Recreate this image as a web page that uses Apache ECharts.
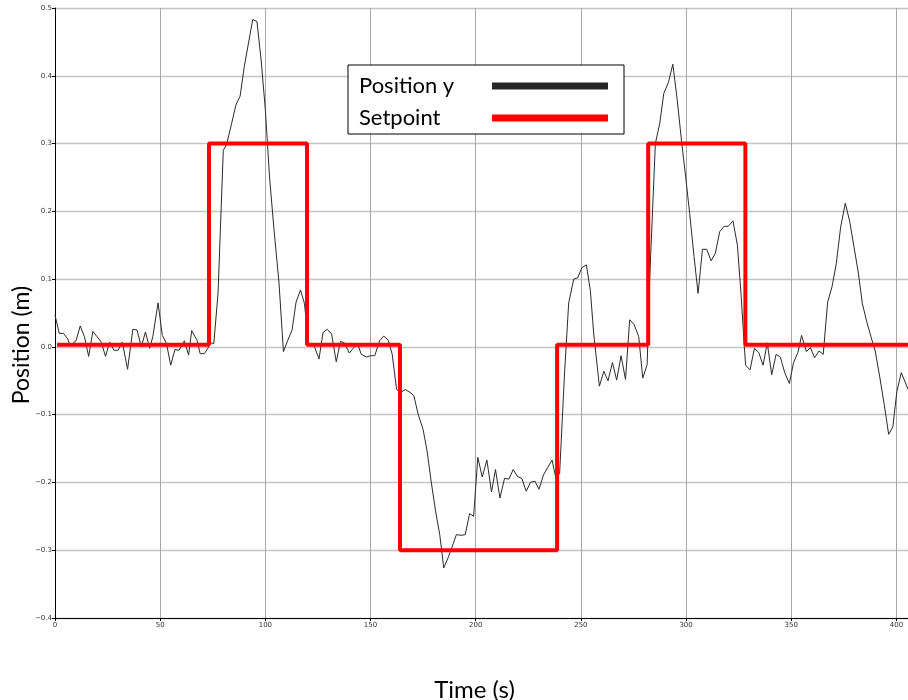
<!DOCTYPE html>
<html>
<head>
<meta charset="utf-8">
<script src="https://cdn.jsdelivr.net/npm/echarts@6/dist/echarts.min.js"></script>
<style>
html,body{margin:0;padding:0;background:#fff;}
#chart{width:908px;height:700px;}
</style>
</head>
<body>
<div id="chart"></div>
<script>
// ---- data ----
const posTime = [0,2,4,6,7,8,10,12,14,16,18,20,22,24,26,28,30,32,34.5,37,39,41,43,45,46.5,49,51,53,55,57,59,61.5,63.5,65,67.5,69,71,72.5,74,75.5,77.5,80,81.5,84,86,88,90,94,96,98,100,102,104,106.5,108.6,110.7,112.7,114.6,116.7,118.6,120,120.7,122.8,125.5,127.4,129.4,131.5,133.7,135.7,137.6,139.9,141.8,143.8,145.6,148.1,150,152,154.3,156.3,158.4,160.3,162.4,164.3,166.6,168.7,170.6,172.6,175,176.9,178.8,180.9,182.9,184.8,186.9,188.9,190.8,193,195,197.1,199,201,203.1,205.3,207.5,209.4,211.5,213.7,215.8,217.8,219.8,221.9,224,226,228.1,230.1,232.2,234.2,236.3,238.2,239.9,242.2,244.2,246.6,248.5,250.5,252.6,254.5,256.1,258.8,260.9,262.9,265,267,269.1,271.2,273.2,275.3,277.5,279.4,281.5,282.7,285.4,287.5,289.4,291.6,293.7,295.7,297.8,299.8,301.7,303.8,305.7,307.8,309.8,311.9,313.9,316,318.1,320.1,322.3,324.4,326.1,327.7,328.3,330.4,332.5,334.5,336.6,338.6,340.7,342.8,344.8,346.9,349.1,351.1,353.2,354.9,357.2,359.1,361.1,363.2,365.2,367.3,369.4,371.4,373.5,375.7,377.8,379.8,381.9,383.8,385.9,387.9,389.9,392,394.2,396.3,398.3,400.2,402.3,405.6];
const posValue = [0.047,0.02,0.02,0.012,0.004,0.004,0.009,0.031,0.015,-0.014,0.023,0.015,0.007,-0.014,0.007,-0.005,-0.005,0.007,-0.033,0.026,0.025,0.0,0.022,-0.002,0.015,0.065,0.017,0.005,-0.027,-0.004,-0.005,0.009,-0.012,0.024,0.01,-0.01,-0.01,-0.003,0.006,0.005,0.079,0.29,0.298,0.33,0.357,0.37,0.414,0.483,0.48,0.423,0.35,0.25,0.177,0.094,-0.007,0.01,0.025,0.066,0.084,0.064,0.02,0.003,0.005,-0.018,0.021,0.026,0.019,-0.022,0.008,0.006,-0.009,-0.002,0.005,-0.011,-0.015,-0.013,-0.013,0.009,0.016,0.01,-0.011,-0.063,-0.067,-0.063,-0.067,-0.072,-0.099,-0.122,-0.154,-0.198,-0.242,-0.277,-0.326,-0.311,-0.294,-0.277,-0.278,-0.277,-0.246,-0.25,-0.163,-0.192,-0.167,-0.214,-0.181,-0.223,-0.194,-0.195,-0.181,-0.191,-0.194,-0.213,-0.2,-0.198,-0.21,-0.189,-0.178,-0.167,-0.195,-0.186,-0.04,0.065,0.1,0.102,0.117,0.121,0.083,0.019,-0.058,-0.036,-0.05,-0.023,-0.049,-0.013,-0.048,0.04,0.033,0.015,-0.046,-0.026,0.1,0.3,0.33,0.374,0.39,0.417,0.367,0.305,0.251,0.197,0.133,0.079,0.144,0.144,0.127,0.138,0.17,0.178,0.178,0.186,0.15,0.079,0.0,-0.027,-0.034,-0.002,-0.008,-0.027,0.006,-0.041,-0.011,-0.015,-0.038,-0.054,-0.023,-0.008,0.017,-0.007,-0.001,-0.016,-0.006,-0.011,0.066,0.089,0.123,0.177,0.212,0.185,0.148,0.109,0.064,0.037,0.015,-0.006,-0.043,-0.085,-0.129,-0.118,-0.066,-0.038,-0.063];
const setTime = [1,73.2,119.8,164,238.7,282,328.2,405.5];
const setValue = [0.003,0.3,0.003,-0.3,0.003,0.3,0.003,0.003];
const seriesNames = ['Position y','Setpoint'];
const xLabel = 'Time (s)';
const yLabel = 'Position (m)';

const posData = posTime.map((t,i)=>[t,posValue[i]]);
const setData = setTime.map((t,i)=>[t,setValue[i]]);

const chart = echarts.init(document.getElementById('chart'), null, {renderer:'canvas'});
const tickFont = {fontSize:7, color:'#333', fontFamily:'DejaVu Sans'};
chart.setOption({
  animation:false,
  backgroundColor:'#fff',
  grid:{left:55, top:8, right:0, bottom:82, outerBoundsMode:'none', containLabel:false},
  legend:{
    data:seriesNames,
    orient:'vertical',
    left:348, top:65,
    align:'right',
    icon:'rect',
    itemWidth:116, itemHeight:7, itemGap:10,
    padding:[10,16,5,11],
    borderColor:'#000', borderWidth:1, borderRadius:0,
    backgroundColor:'#fff',
    formatter:'{a|{name}}',
    textStyle:{
      rich:{a:{width:128, align:'left', fontSize:22, fontFamily:'Lato', color:'#000', lineHeight:20}}
    }
  },
  xAxis:{
    type:'value', min:0, max:405.5, interval:50,
    name:xLabel, nameLocation:'middle', nameGap:60, nameMoveOverlap:false,
    nameTextStyle:{fontSize:24, fontFamily:'Lato', color:'#000', padding:[0,14,0,0]},
    axisLine:{show:true, onZero:false, lineStyle:{color:'#000', width:1}},
    axisTick:{show:true, length:3, lineStyle:{color:'#000'}},
    axisLabel:Object.assign({margin:4, showMaxLabel:false}, tickFont),
    splitLine:{show:true, lineStyle:{color:'#a8a8a8', width:1}}
  },
  yAxis:{
    type:'value', min:-0.4, max:0.5, interval:0.1,
    name:yLabel, nameLocation:'middle', nameGap:22, nameRotate:90, nameMoveOverlap:false,
    nameTextStyle:{fontSize:23, fontFamily:'Lato', color:'#000', padding:[0,64,0,0]},
    axisLine:{show:true, onZero:false, lineStyle:{color:'#000', width:1}},
    axisTick:{show:true, length:3, lineStyle:{color:'#000'}},
    axisLabel:Object.assign({margin:3, formatter:v=>v.toFixed(1).replace('-', '\u2212')}, tickFont),
    splitLine:{show:true, lineStyle:{color:'#c4c4c4', width:1.3}}
  },
  series:[
    {name:seriesNames[0], type:'line', data:posData, showSymbol:false, symbol:'none',
     color:'#262626', lineStyle:{color:'#2a2a2a', width:1}, z:2},
    {name:seriesNames[1], type:'line', data:setData, step:'end', showSymbol:false, symbol:'none',
     color:'#ff0000', lineStyle:{color:'#ff0000', width:4}, z:3}
  ]
});
</script>
</body>
</html>
